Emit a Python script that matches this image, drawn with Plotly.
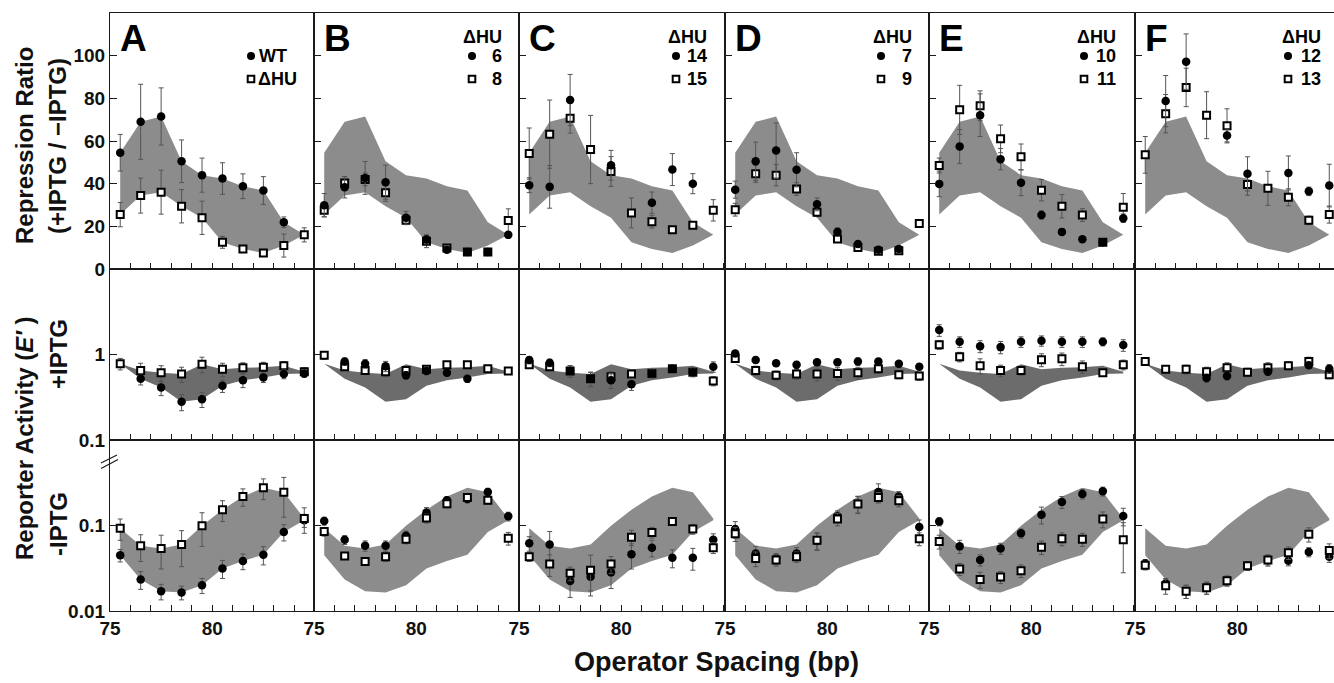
import plotly.graph_objects as go

W, H = 1334, 683
FONT = "Liberation Sans, Arial, Helvetica, sans-serif"

# ---------------- data ----------------
spacing = [75.5, 76.5, 77.5, 78.5, 79.5, 80.5, 81.5, 82.5, 83.5, 84.5]
panel_letters = ["A", "B", "C", "D", "E", "F"]
circle_names = ["WT", "6", "14", "7", "10", "12"]
square_names = ["\u0394HU", "8", "15", "9", "11", "13"]
x_tick_vals = [75, 76, 77, 78, 79, 80, 81, 82, 83, 84, 85]
x_tick_text = ["75", "", "", "", "", "80", "", "", "", "", ""]
ratio_ticks = [0, 20, 40, 60, 80, 100]
plus_ticks = [0.1, 1]
minus_ticks = [0.01, 0.1]

# Repression ratio (top row): circle series and square series per panel
A_ratio_c = [54.5, 69, 71.5, 50.5, 44, 42.4, 38.8, 36.8, 21.9, None]
A_ratio_c_err = [8.6, 17.6, 13.4, 10, 8, 7.4, 5.8, 6.5, 2.5, 0]
A_ratio_s = [25.5, 34.4, 36, 29.4, 24, 12.5, 9.4, 7.5, 11, 16]
A_ratio_s_err = [5.7, 8.2, 10.3, 7.8, 7.8, 2.8, 1.5, 1, 5.4, 3.3]
B_ratio_c = [29.9, 38.3, 42.7, 40.7, 24, 13.8, 9, 8, 8, 16]
B_ratio_c_err = [5.5, 5, 7.7, 8, 3, 2, 1, 1, 1, 1]
B_ratio_s = [27.5, 40.3, 42, 35.7, 22.8, 13, 9.8, 8, 8, 22.7]
B_ratio_s_err = [3, 3, 3, 4, 2, 3, 1, 1, 1, 5.5]
C_ratio_c = [39.3, 38.5, 79.2, None, 48.6, None, 31.1, 46.6, 40, None]
C_ratio_c_err = [3.5, 10, 12, 0, 7, 0, 5, 7.5, 4.7, 0]
C_ratio_s = [54.1, 63.2, 70.7, 56, 45.7, 26.3, 22.2, 18.4, 20.5, 27.5]
C_ratio_s_err = [12, 16, 7, 16, 7, 7, 3, 1.5, 1.5, 5]
D_ratio_c = [37.2, 50.5, 55.5, 46.5, 30.3, 17.4, 11.7, 9, 9.4, None]
D_ratio_c_err = [4, 9, 13, 8, 3, 2, 1, 1, 1, 0]
D_ratio_s = [27.8, 44.6, 44, 37.5, 26.6, 14.1, 10.1, 8.3, 8.6, 21.3]
D_ratio_s_err = [3, 4, 5, 3, 2, 1.5, 1, 1, 1, 1.5]
E_ratio_c = [39.9, 57.4, 72.1, 51.5, 40.4, 25.3, 17.4, 13.9, 12.5, 23.8]
E_ratio_c_err = [6, 8, 10, 5, 6, 2, 1.5, 1, 1, 2]
E_ratio_s = [48.5, 74.6, 76.5, 61, 52.6, 36.9, 29.4, 25.3, 12.5, 28.9]
E_ratio_s_err = [3.5, 11.5, 7, 6.5, 6, 5, 5.5, 3, 1, 6.5]
F_ratio_c = [None, 78.7, 97.2, None, 62.6, 44.6, None, 45, 36.4, 39.1]
F_ratio_c_err = [0, 12, 13, 0, 3, 8, 0, 8, 2, 10]
F_ratio_s = [53.5, 72.8, 85.1, 72.1, 67.1, 39.6, 37.8, 33.6, 22.8, 25.5]
F_ratio_s_err = [8.6, 9, 9, 11, 8, 5, 8, 4, 2, 4]

# Reporter activity +IPTG (middle row)
A_plus_c = [None, 0.52, 0.41, 0.28, 0.30, 0.43, 0.50, 0.54, 0.59, 0.60]
A_plus_c_err = [0, 0.08, 0.08, 0.06, 0.06, 0.07, 0.09, 0.07, 0.07, 0.06]
A_plus_s = [0.78, 0.65, 0.61, 0.59, 0.77, 0.67, 0.70, 0.71, 0.74, 0.63]
A_plus_s_err = [0.12, 0.14, 0.13, 0.12, 0.16, 0.12, 0.10, 0.10, 0.08, 0.07]
B_plus_c = [None, 0.83, 0.78, 0.73, 0.57, 0.64, 0.61, 0.52, None, None]
B_plus_c_err = [0, 0.08, 0.09, 0.1, 0.06, 0.06, 0.05, 0.05, 0, 0]
B_plus_s = [0.98, 0.72, 0.65, 0.63, 0.65, 0.67, 0.76, 0.76, 0.68, 0.64]
B_plus_s_err = [0.1, 0.07, 0.06, 0.08, 0.06, 0.06, 0.06, 0.05, 0.05, 0.05]
C_plus_c = [0.86, 0.80, 0.64, 0.52, 0.50, 0.45, 0.60, 0.68, 0.62, 0.72]
C_plus_c_err = [0.08, 0.08, 0.1, 0.1, 0.1, 0.07, 0.07, 0.08, 0.07, 0.1]
C_plus_s = [0.76, 0.72, 0.64, 0.52, 0.55, 0.59, 0.60, 0.68, 0.62, 0.49]
C_plus_s_err = [0.07, 0.07, 0.1, 0.1, 0.08, 0.06, 0.07, 0.08, 0.07, 0.06]
D_plus_c = [1.03, 0.86, 0.79, 0.76, 0.81, 0.81, 0.83, 0.83, 0.78, 0.72]
D_plus_c_err = [0.08, 0.07, 0.06, 0.07, 0.07, 0.07, 0.08, 0.07, 0.06, 0.06]
D_plus_s = [0.90, 0.65, 0.57, 0.59, 0.59, 0.60, 0.61, 0.68, 0.58, 0.56]
D_plus_s_err = [0.08, 0.08, 0.07, 0.08, 0.1, 0.1, 0.1, 0.08, 0.06, 0.06]
E_plus_c = [1.93, 1.41, 1.25, 1.22, 1.41, 1.45, 1.41, 1.41, 1.41, 1.29]
E_plus_c_err = [0.3, 0.2, 0.2, 0.2, 0.2, 0.2, 0.2, 0.2, 0.15, 0.2]
E_plus_s = [1.30, 0.94, 0.74, 0.65, 0.65, 0.87, 0.89, 0.72, 0.61, 0.76]
E_plus_s_err = [0.15, 0.12, 0.15, 0.1, 0.08, 0.15, 0.15, 0.12, 0.05, 0.1]
F_plus_c = [None, None, None, 0.53, 0.56, None, 0.63, None, 0.75, 0.68]
F_plus_c_err = [0, 0, 0, 0.06, 0.06, 0, 0.06, 0, 0.06, 0.08]
F_plus_s = [0.83, 0.67, 0.67, 0.63, 0.70, 0.62, 0.70, 0.74, 0.83, 0.58]
F_plus_s_err = [0.08, 0.06, 0.08, 0.08, 0.1, 0.07, 0.1, 0.08, 0.1, 0.06]

# Reporter activity -IPTG (bottom row)
A_minus_c = [0.045, 0.0234, 0.017, 0.0165, 0.020, 0.0315, 0.0384, 0.0456, 0.084, 0.115]
A_minus_c_err = [0.0075, 0.0055, 0.0035, 0.003, 0.004, 0.0075, 0.008, 0.011, 0.018, 0.02]
A_minus_s = [0.093, 0.058, 0.054, 0.060, 0.099, 0.153, 0.218, 0.276, 0.245, 0.121]
A_minus_s_err = [0.026, 0.02, 0.023, 0.027, 0.042, 0.042, 0.05, 0.075, 0.12, 0.04]
B_minus_c = [0.113, 0.068, 0.058, 0.058, 0.076, 0.142, 0.197, 0.204, 0.247, 0.128]
B_minus_c_err = [0.012, 0.008, 0.008, 0.008, 0.01, 0.02, 0.02, 0.02, 0.025, 0.015]
B_minus_s = [0.085, 0.044, 0.038, 0.043, 0.069, 0.122, 0.180, 0.213, 0.197, 0.071]
B_minus_s_err = [0.01, 0.004, 0.004, 0.005, 0.008, 0.015, 0.02, 0.02, 0.02, 0.012]
C_minus_c = [0.062, 0.060, 0.0224, 0.0252, 0.0283, 0.046, 0.055, 0.042, 0.042, 0.068]
C_minus_c_err = [0.012, 0.025, 0.008, 0.008, 0.01, 0.015, 0.012, 0.01, 0.012, 0.012]
C_minus_s = [0.043, 0.0354, 0.0276, 0.030, 0.0354, 0.073, 0.083, 0.111, 0.091, 0.055]
C_minus_s_err = [0.005, 0.01, 0.005, 0.015, 0.008, 0.015, 0.012, 0.01, 0.012, 0.008]
D_minus_c = [0.091, 0.047, 0.041, 0.047, 0.066, 0.128, 0.18, 0.247, 0.219, 0.096]
D_minus_c_err = [0.02, 0.01, 0.006, 0.008, 0.015, 0.02, 0.04, 0.06, 0.03, 0.02]
D_minus_s = [0.080, 0.041, 0.0395, 0.043, 0.067, 0.119, 0.178, 0.213, 0.195, 0.070]
D_minus_s_err = [0.015, 0.008, 0.006, 0.006, 0.015, 0.02, 0.04, 0.03, 0.03, 0.012]
E_minus_c = [0.111, 0.057, 0.0395, 0.054, 0.081, 0.134, 0.188, 0.234, 0.251, 0.129]
E_minus_c_err = [0.012, 0.01, 0.006, 0.008, 0.01, 0.03, 0.03, 0.03, 0.03, 0.03]
E_minus_s = [0.065, 0.031, 0.0234, 0.0249, 0.0296, 0.0557, 0.070, 0.069, 0.119, 0.068]
E_minus_s_err = [0.012, 0.005, 0.005, 0.004, 0.005, 0.01, 0.012, 0.012, 0.025, 0.04]
F_minus_c = [0.036, 0.021, 0.017, 0.0187, 0.0226, 0.0338, 0.0395, 0.0387, 0.049, 0.043]
F_minus_c_err = [0.004, 0.003, 0.003, 0.003, 0.003, 0.004, 0.005, 0.005, 0.006, 0.006]
F_minus_s = [0.0342, 0.0197, 0.017, 0.0187, 0.0226, 0.0338, 0.0395, 0.048, 0.079, 0.051]
F_minus_s_err = [0.004, 0.004, 0.003, 0.003, 0.003, 0.004, 0.006, 0.008, 0.015, 0.01]

rows = [
    dict(c=[A_ratio_c, B_ratio_c, C_ratio_c, D_ratio_c, E_ratio_c, F_ratio_c],
         ce=[A_ratio_c_err, B_ratio_c_err, C_ratio_c_err, D_ratio_c_err, E_ratio_c_err, F_ratio_c_err],
         s=[A_ratio_s, B_ratio_s, C_ratio_s, D_ratio_s, E_ratio_s, F_ratio_s],
         se=[A_ratio_s_err, B_ratio_s_err, C_ratio_s_err, D_ratio_s_err, E_ratio_s_err, F_ratio_s_err],
         band="#8c8c8c", circles_on_top=True),
    dict(c=[A_plus_c, B_plus_c, C_plus_c, D_plus_c, E_plus_c, F_plus_c],
         ce=[A_plus_c_err, B_plus_c_err, C_plus_c_err, D_plus_c_err, E_plus_c_err, F_plus_c_err],
         s=[A_plus_s, B_plus_s, C_plus_s, D_plus_s, E_plus_s, F_plus_s],
         se=[A_plus_s_err, B_plus_s_err, C_plus_s_err, D_plus_s_err, E_plus_s_err, F_plus_s_err],
         band="#6c6c6c", circles_on_top=True),
    dict(c=[A_minus_c, B_minus_c, C_minus_c, D_minus_c, E_minus_c, F_minus_c],
         ce=[A_minus_c_err, B_minus_c_err, C_minus_c_err, D_minus_c_err, E_minus_c_err, F_minus_c_err],
         s=[A_minus_s, B_minus_s, C_minus_s, D_minus_s, E_minus_s, F_minus_s],
         se=[A_minus_s_err, B_minus_s_err, C_minus_s_err, D_minus_s_err, E_minus_s_err, F_minus_s_err],
         band="#8c8c8c", circles_on_top=False),
]

# ---------------- geometry (pixels) ----------------
col_left = [110, 314, 519, 725, 929, 1135]
col_right = [314, 519, 725, 929, 1135, 1334]
row_top = [13, 269, 440]
row_bot = [269, 440, 611]
px_per_bp = 20.45
LINE = "#1a1a1a"

fig = go.Figure()
layout = dict(width=W, height=H, autosize=False, margin=dict(l=0, r=0, t=0, b=0, pad=0),
              paper_bgcolor="white", plot_bgcolor="white", showlegend=False,
              font=dict(family=FONT, color="#111", size=18, weight="bold"))


def ax_name(i, letter):
    return f"{letter}axis" if i == 1 else f"{letter}axis{i}"


for r in range(3):
    for c in range(6):
        i = r * 6 + c + 1
        L, R = col_left[c], col_right[c]
        xa = dict(domain=[L / W, R / W], range=[75, 75 + (R - L) / px_per_bp],
                  anchor=f"y{i}", showline=True, mirror=True, linecolor=LINE, linewidth=1.2,
                  ticks="inside", ticklen=6, tickwidth=1.2, tickcolor=LINE,
                  tickmode="array", tickvals=x_tick_vals, ticktext=x_tick_text,
                  showticklabels=(r == 2), showgrid=False, zeroline=False, automargin=False,
                  tickfont=dict(family=FONT, size=19, color="#111", weight="bold"),
                  ticklabelstandoff=0, fixedrange=True)
        ya = dict(domain=[1 - row_bot[r] / H, 1 - row_top[r] / H], anchor=f"x{i}",
                  showline=True, mirror=(c != 5), linecolor=LINE, linewidth=1.2,
                  ticks="inside", ticklen=7, tickwidth=1.2, tickcolor=LINE,
                  showticklabels=(c == 0), showgrid=False, zeroline=False, automargin=False,
                  tickfont=dict(family=FONT, size=19, color="#111", weight="bold"),
                  fixedrange=True)
        if r == 0:
            ya.update(range=[0, 120], tickmode="array", tickvals=ratio_ticks,
                      ticktext=[str(v) for v in ratio_ticks])
        elif r == 1:
            ya.update(type="log", range=[-1, 1], tickmode="array", tickvals=plus_ticks,
                      ticktext=["0.1", "1"])
        else:
            ya.update(type="log", range=[-2, 0], tickmode="array", tickvals=minus_ticks,
                      ticktext=["0.01", "0.1"])
        layout[ax_name(i, "x")] = xa
        layout[ax_name(i, "y")] = ya

        row = rows[r]
        # reference envelope (panel A, WT vs dHU)
        wt, dh = row["c"][0], row["s"][0]
        hi = [max(v for v in (a, b) if v is not None) for a, b in zip(wt, dh)]
        lo = [min(v for v in (a, b) if v is not None) for a, b in zip(wt, dh)]
        fig.add_trace(go.Scatter(x=spacing + spacing[::-1], y=hi + lo[::-1],
                                 xaxis=f"x{i}", yaxis=f"y{i}", mode="lines",
                                 fill="toself", fillcolor=row["band"],
                                 line=dict(width=0, color=row["band"]), hoverinfo="skip"))
        circ = go.Scatter(x=spacing, y=row["c"][c], xaxis=f"x{i}", yaxis=f"y{i}",
                          mode="markers", cliponaxis=False,
                          marker=dict(symbol="circle", size=8.5, color="black",
                                      line=dict(width=0)),
                          error_y=dict(type="data", array=row["ce"][c], visible=True,
                                       color="#555", thickness=1, width=2.5),
                          name=circle_names[c])
        sq = go.Scatter(x=spacing, y=row["s"][c], xaxis=f"x{i}", yaxis=f"y{i}",
                        mode="markers", cliponaxis=False,
                        marker=dict(symbol="square", size=7, color="white",
                                    line=dict(width=2, color="black")),
                        error_y=dict(type="data", array=row["se"][c], visible=True,
                                     color="#555", thickness=1, width=2.5),
                        name=square_names[c])
        if row["circles_on_top"]:
            fig.add_trace(sq)
            fig.add_trace(circ)
        else:
            fig.add_trace(circ)
            fig.add_trace(sq)

annotations = []
shapes = []


def px(x):
    return x / W


def py(y):
    return 1 - y / H


def note(x, y, text, font, xanchor="center", yanchor="middle", angle=0):
    return dict(x=px(x), y=py(y), xref="paper", yref="paper", text=text,
                showarrow=False, xanchor=xanchor, yanchor=yanchor, textangle=angle,
                font=font, borderpad=0)


# panel letters and legends
for c in range(6):
    annotations.append(note(col_left[c] + 9, 39, "<b>" + panel_letters[c] + "</b>",
                            dict(family=FONT, size=37, color="black", weight="bold"),
                            xanchor="left"))
legend_circle_x = [251, 472, 676, 881, 1084, 1288]
legend_text_right = [0, 503, 708, 913, 1117, 1322]
lf = dict(family=FONT, size=18, color="black", weight="bold")
for c in range(6):
    cx = legend_circle_x[c]
    shapes.append(dict(type="circle", xref="paper", yref="paper",
                       x0=px(cx - 4), x1=px(cx + 4), y0=py(56 + 4), y1=py(56 - 4),
                       fillcolor="black", line=dict(width=0)))
    shapes.append(dict(type="rect", xref="paper", yref="paper",
                       x0=px(cx - 3.3), x1=px(cx + 3.3), y0=py(79 + 3.3), y1=py(79 - 3.3),
                       fillcolor="white", line=dict(width=2, color="black")))
    if c == 0:
        annotations.append(note(258, 56, "<b>" + circle_names[0] + "</b>", lf, xanchor="left"))
        annotations.append(note(257, 79, "<b>" + square_names[0] + "</b>", lf, xanchor="left"))
    else:
        rr = legend_text_right[c]
        annotations.append(note(rr, 37, "<b>\u0394HU</b>", lf, xanchor="right"))
        annotations.append(note(rr, 56, "<b>" + circle_names[c] + "</b>", lf, xanchor="right"))
        annotations.append(note(rr, 79, "<b>" + square_names[c] + "</b>", lf, xanchor="right"))

tf = dict(family=FONT, size=24, color="#111", weight="bold")
annotations += [
    note(24, 146, "<b>Repression Ratio</b>", tf, angle=-90),
    note(57, 146, "<b>(+IPTG / \u2212IPTG)</b>", tf, angle=-90),
    note(24, 438, "<b>Reporter Activity (<i>E\u2032</i> )</b>", tf, angle=-90),
    note(58, 354, "<b>+IPTG</b>", tf, angle=-90),
    note(58, 524, "<b>-IPTG</b>", tf, angle=-90),
    note(716, 662, "<b>Operator Spacing (bp)</b>",
         dict(family=FONT, size=27, color="#111", weight="bold")),
]

# axis break marks
for (x0, y0, x1, y1) in [(101, 463, 117, 455), (101, 468.5, 118, 459.5)]:
    shapes.append(dict(type="line", xref="paper", yref="paper",
                       x0=px(x0), y0=py(y0), x1=px(x1), y1=py(y1),
                       line=dict(color=LINE, width=1.2)))

layout["annotations"] = annotations
layout["shapes"] = shapes
fig.update_layout(**layout)
fig.write_html("out.html",
               config={"displayModeBar": False, "responsive": False},
               post_script="document.body.style.margin='0';document.body.style.padding='0';"
                           "document.body.style.overflow='hidden';")
